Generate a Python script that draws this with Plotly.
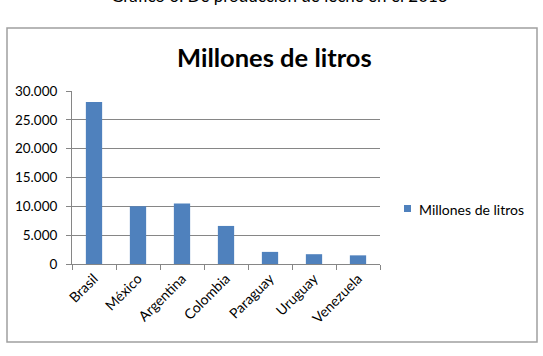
import plotly.graph_objects as go

categories = ["Brasil", "México", "Argentina", "Colombia", "Paraguay", "Uruguay", "Venezuela"]
values = [28100, 10000, 10500, 6600, 2100, 1700, 1500]
series_name = "Millones de litros"
chart_title = "Millones de litros"
top_caption = "Gráfico 6. De producción de leche en el 2013"
bar_color = "#4F81BD"

W, H = 543, 356
L, R, T, B = 72, 380, 91, 264
pw, ph = R - L, B - T

def px(x):
    return (x - L) / pw

def py(y):
    return (B - y) / ph

fig = go.Figure()
fig.add_trace(go.Bar(
    x=categories, y=values, name=series_name,
    marker=dict(color=bar_color, line=dict(width=0)),
    showlegend=False,
))

font = "Lato, 'Open Sans', sans-serif"

fig.update_layout(
    width=W, height=H,
    margin=dict(l=L, r=W - R, t=T, b=H - B, pad=0),
    paper_bgcolor="white", plot_bgcolor="white",
    separators=",.",
    bargap=0.63,
    font=dict(family=font, size=12, color="#000000"),
    xaxis=dict(
        type="category", showgrid=False, showline=True, linecolor="#868686", linewidth=1,
        ticks="outside", tickson="boundaries", ticklen=5, tickcolor="#868686",
        tickangle=-45, tickfont=dict(family=font, size=14, color="#000"),
        fixedrange=True,
    ),
    yaxis=dict(
        range=[0, 30000], dtick=5000, tickformat=",d",
        showgrid=True, gridcolor="#868686", gridwidth=1,
        showline=True, linecolor="#868686", linewidth=1,
        ticks="outside", ticklen=5, tickcolor="#868686",
        ticklabelstandoff=6,
        tickfont=dict(family=font, size=13.5, color="#000"),
        zeroline=False, fixedrange=True,
    ),
    showlegend=False,
    shapes=[
        dict(type="rect", xref="paper", yref="paper",
             x0=px(7), x1=px(537), y0=py(342), y1=py(28),
             line=dict(color="#a0a0a0", width=1.5), fillcolor="rgba(0,0,0,0)", layer="below"),
        # legend key
        dict(type="rect", xref="paper", yref="paper",
             x0=px(404), x1=px(411), y0=py(212), y1=py(205),
             line=dict(width=0), fillcolor=bar_color),
    ],
    annotations=[
        dict(text="<b>" + chart_title + "</b>", xref="paper", yref="paper",
             x=px(274), y=py(57), xanchor="center", yanchor="middle",
             showarrow=False, font=dict(family=font, size=25.5, color="#000")),
        dict(text=top_caption, xref="paper", yref="paper",
             x=px(279), y=py(-5), xanchor="center", yanchor="middle",
             showarrow=False, font=dict(family=font, size=17, color="#000")),
        dict(text=series_name, xref="paper", yref="paper",
             x=px(417), y=py(209), xanchor="left", yanchor="middle",
             showarrow=False, font=dict(family=font, size=14, color="#000")),
    ],
)

fig.write_html("out.html")
